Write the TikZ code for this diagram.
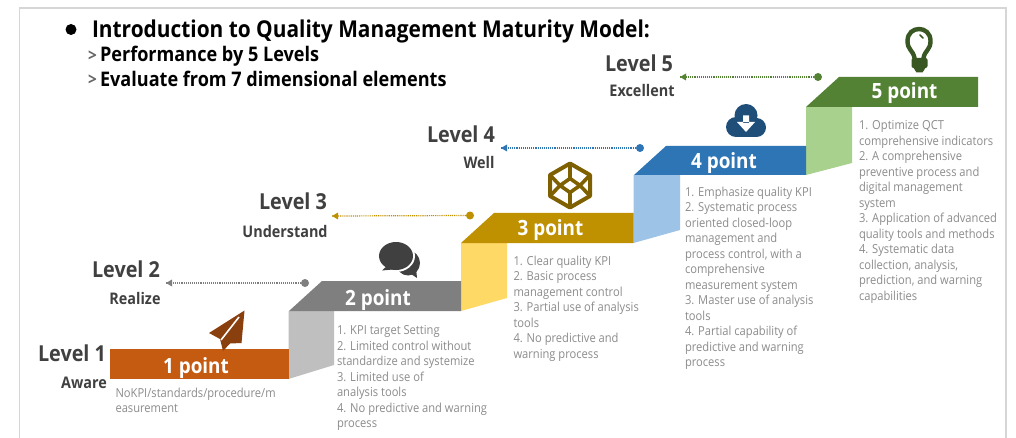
\documentclass[tikz,border=0pt]{standalone}
\usepackage{fontspec}
\setmainfont[FakeStretch=0.9]{Open Sans}
\usetikzlibrary{arrows.meta}
\definecolor{bOne}{HTML}{C55A11}\definecolor{bTwo}{HTML}{7F7F7F}\definecolor{bThree}{HTML}{BF9000}
\definecolor{bFour}{HTML}{2E75B6}\definecolor{bFive}{HTML}{548235}
\definecolor{rTwo}{HTML}{BFBFBF}\definecolor{rThree}{HTML}{FFD966}\definecolor{rFour}{HTML}{9DC3E6}\definecolor{rFive}{HTML}{A9D18E}
\definecolor{iOne}{HTML}{8A3F0E}\definecolor{iTwo}{HTML}{404040}\definecolor{iThree}{HTML}{7F6000}\definecolor{iFour}{HTML}{1F4E79}\definecolor{iFive}{HTML}{385723}
\definecolor{descgray}{HTML}{8C8C8C}\definecolor{lvl}{HTML}{404040}
\tikzset{
 every node/.style={inner sep=0pt,outer sep=0pt},
 title/.style={anchor=base west,font=\bfseries\fontsize{23.2}{26}\selectfont,text=black},
 subt/.style={anchor=base west,font=\bfseries\fontsize{20.1}{22}\selectfont,text=black},
 gt/.style={anchor=base west,font=\bfseries\fontsize{17}{18}\selectfont,text=black!60},
 lvlname/.style={anchor=base,font=\bfseries\fontsize{22}{24}\selectfont,text=lvl},
 lvlsub/.style={anchor=base,font=\bfseries\fontsize{16}{17}\selectfont,text=lvl},
 pts/.style={anchor=base,font=\bfseries\fontsize{21}{24}\selectfont,text=white},
 desc/.style={anchor=north west,align=left,text=descgray,font=\fontsize{12.4}{15.5}\selectfont},
}
\newcommand{\leader}[3]{%
 \fill[#1] (#2) circle (4);
 \draw[#1,line width=1.2pt,dash pattern=on 1pt off 0.9pt] (#2) -- (#3);
 \fill[#1] (#3) -- ++(6,-3.5) -- ++(0,7) -- cycle;
}
\begin{document}
\begin{tikzpicture}[x=1pt,y=-1pt]
\useasboundingbox (0,0) rectangle (1016,438);
\fill[white] (0,0) rectangle (1016,438);
% frame
\draw[black!16,line width=1.6pt] (19.5,438) -- (19.5,8) -- (1006,8) -- (1006,438);
% heading
\fill[black] (71,29.5) circle (5.5);
\node[title] (t0) at (92,38) {Introduction to Quality Management Maturity Model:};
\node[gt] (g1) at (88,61.5) {>};
\node[subt] (t1) at (100,62) {Performance by 5 Levels};
\node[gt] (g2) at (88,86) {>};
\node[subt] (t2) at (100,86.5) {Evaluate from 7 dimensional elements};
% risers
\fill[rTwo] (288.5,311) -- (334,311) -- (334,365) -- (288.5,379) -- cycle;
\fill[rThree] (461,243) -- (507,243) -- (507,298) -- (461,311) -- cycle;
\fill[rFour] (633.5,175) -- (680,175) -- (680,230) -- (633.5,243) -- cycle;
\fill[rFive] (806,107) -- (852,107) -- (852,163) -- (806,175) -- cycle;
% bars
\fill[bOne] (110,349) rectangle (288.5,379);
\fill[bTwo] (289,311) -- (322,281) -- (461,281) -- (461,311) -- cycle;
\fill[bThree] (461,243) -- (494,213) -- (633.5,213) -- (633.5,243) -- cycle;
\fill[bFour] (634,175) -- (666,146) -- (806,146) -- (806,175) -- cycle;
\fill[bFive] (806,107) -- (839,77) -- (978,77) -- (978,107) -- cycle;
\node[pts] (p1) at (196,373.5) {1 point};
\node[pts] (p2) at (378,305) {2 point};
\node[pts] (p3) at (550.5,236) {3 point};
\node[pts] (p4) at (724,169) {4 point};
\node[pts] (p5) at (904.5,99) {5 point};
% level labels
\node[lvlname] (l1) at (72,361) {Level 1};
\node[lvlsub] (s1) at (84,388) {Aware};
\node[lvlname] (l2) at (126,277) {Level 2};
\node[lvlsub] (s2) at (135,304) {Realize};
\node[lvlname] (l3) at (293,210) {Level 3};
\node[lvlsub] (s3) at (285,237) {Understand};
\node[lvlname] (l4) at (461,143) {Level 4};
\node[lvlsub] (s4) at (479,169) {Well};
\node[lvlname] (l5) at (639,72) {Level 5};
\node[lvlsub] (s5) at (642,97) {Excellent};
% leaders
\coordinate (d2) at (305,283); \coordinate (a2) at (166,283);
\coordinate (d3) at (470,215.5); \coordinate (a3) at (332,216);
\coordinate (d4) at (640,148); \coordinate (a4) at (501,148);
\coordinate (d5) at (818,77); \coordinate (a5) at (680,77);
\leader{bTwo}{d2}{a2}
\leader{bThree}{d3}{a3}
\leader{bFour}{d4}{a4}
\leader{bFive}{d5}{a5}
% descriptions
\node[desc] (x1) at (115.5,388) {NoKPI/standards/procedure/m\\easurement};
\node[desc] (x2) at (337,325.5) {1. KPI target Setting\\2. Limited control without\\standardize and systemize\\3. Limited use of\\analysis tools\\4. No predictive and warning\\process};
\node[desc] (x3) at (513.5,256) {1. Clear quality KPI\\2. Basic process\\management control\\3. Partial use of analysis\\tools\\4. No predictive and\\warning process};
\node[desc] (x4) at (685,187) {1. Emphasize quality KPI\\2. Systematic process\\oriented closed-loop\\management and\\process control, with a\\comprehensive\\measurement system\\3. Master use of analysis\\tools\\4. Partial capability of\\predictive and warning\\process};
\node[desc] (x5) at (859,120.5) {1. Optimize QCT\\comprehensive indicators\\2. A comprehensive\\preventive process and\\digital management\\system\\3. Application of advanced\\quality tools and methods\\4. Systematic data\\collection, analysis,\\prediction, and warning\\capabilities};
% icon: plane
\fill[iOne] (244.5,310.5) -- (209,333) -- (220,339) -- (223,351) -- (230,343.5) -- (241.5,343) -- cycle;
\draw[white,line width=1.6pt] (239,317) -- (221,340);
% icon: bubbles
\fill[iTwo] (408,263) ellipse (12 and 12.5);
\fill[iTwo] (405,270) -- (417,278) -- (416,268) -- cycle;
\fill[white] (396,256) ellipse (19 and 16);
\fill[iTwo] (396,256) ellipse (17 and 14);
\fill[iTwo] (388,265) -- (382,270.5) -- (398,269) -- cycle;
% icon: codepen
\draw[iThree,line width=4pt,line join=round]
 (570,163.5) -- (590,175) -- (590,196) -- (570,207.5) -- (550,196) -- (550,175) -- cycle;
\draw[iThree,line width=3.6pt,line join=round]
 (570,178.5) -- (580,185.5) -- (570,192.5) -- (560,185.5) -- cycle
 (570,163.5) -- (570,178.5) (570,192.5) -- (570,207.5)
 (550,175) -- (560,185.5) -- (550,196) (590,175) -- (580,185.5) -- (590,196);
% icon: cloud
\fill[iFour] (737,118) rectangle (756,137);
\fill[iFour] (736,127) circle (10);
\fill[iFour] (756.5,127.5) circle (9.5);
\fill[iFour] (746,115.5) circle (11.5);
\fill[white] (743,115.5) rectangle (749,123) (737,122) -- (755,122) -- (746,132) -- cycle;
% icon: bulb
\draw[iFive,line width=4.4pt,line cap=round] (914.5,58) .. controls (913,50) and (907.5,50) .. (907.5,41) .. controls (907.5,25) and (930.5,25) .. (930.5,41) .. controls (930.5,50) and (925,50) .. (923.5,58);
\draw[iFive,line width=1.6pt,line cap=round] (920,35) -- (923,38);
\fill[iFive,rounded corners=2pt] (911.5,58) rectangle (927.5,68);
\fill[iFive] (913,67) -- (926,67) -- (922.5,72.5) -- (916.5,72.5) -- cycle;
\end{tikzpicture}
\end{document}
